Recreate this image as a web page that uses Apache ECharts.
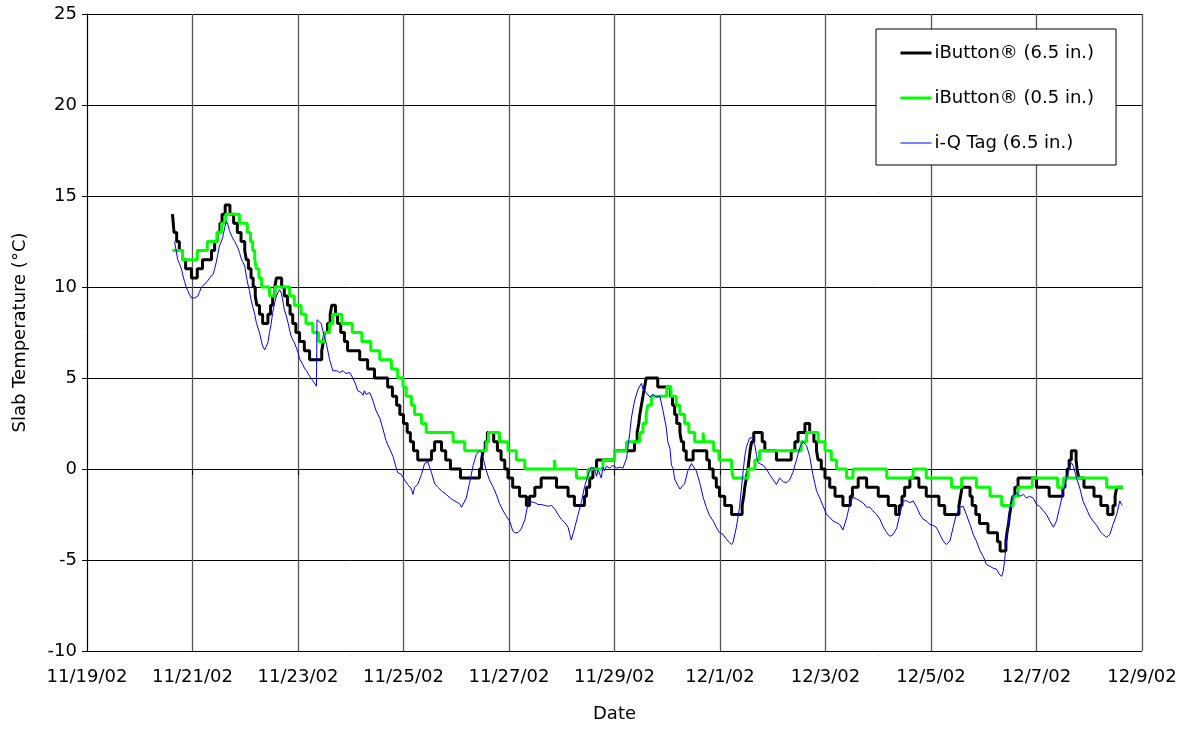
<!DOCTYPE html>
<html>
<head>
<meta charset="utf-8">
<script src="https://cdn.jsdelivr.net/npm/echarts@6/dist/echarts.min.js"></script>
<style>
html, body { margin: 0; padding: 0; background: #fff; }
#chartmain { width: 1185px; height: 730px; }
</style>
</head>
<body>
<div id="chartmain"></div>
<script>
// x = days since 11/19/02 00:00, y = slab temperature (°C)
var dateLabels = ['11/19/02', '11/21/02', '11/23/02', '11/25/02', '11/27/02', '11/29/02',
    '12/1/02', '12/3/02', '12/5/02', '12/7/02', '12/9/02'];

// iButton 6.5 in. : logged in 0.5 °C steps, one point per change
var ibutton65 = [
    [1.62, 14], [1.65, 13], [1.70, 12.5], [1.75, 12], [1.81, 11.5], [1.87, 11], [1.98, 10.5],
    [2.09, 11], [2.19, 11.5], [2.36, 12], [2.42, 12.5], [2.47, 13], [2.52, 13.5], [2.56, 14],
    [2.62, 14.5], [2.71, 14], [2.78, 13.5], [2.85, 13], [2.92, 12.5], [2.99, 12], [3.02, 11.5],
    [3.06, 11], [3.11, 10.5], [3.15, 10], [3.19, 9.5], [3.22, 9], [3.27, 8.5], [3.33, 8],
    [3.43, 8.5], [3.48, 9], [3.52, 9.5], [3.56, 10], [3.59, 10.5], [3.69, 10], [3.74, 9.5],
    [3.80, 9], [3.85, 8.5], [3.90, 8], [3.96, 7.5], [4.03, 7], [4.12, 6.5], [4.22, 6],
    [4.45, 6.5], [4.48, 7], [4.51, 7.5], [4.56, 8], [4.61, 8.5], [4.64, 9], [4.71, 8.5],
    [4.75, 8], [4.81, 7.5], [4.88, 7], [4.94, 6.5], [5.17, 6], [5.32, 5.5], [5.45, 5],
    [5.70, 4.5], [5.79, 4], [5.87, 3.5], [5.93, 3], [6.00, 2.5], [6.07, 2], [6.13, 1.5],
    [6.19, 1], [6.27, 0.5], [6.53, 1], [6.59, 1.5], [6.72, 1], [6.80, 0.5], [6.89, 0],
    [7.08, -0.5], [7.44, 0], [7.48, 0.5], [7.51, 1], [7.55, 1.5], [7.59, 2], [7.71, 1.5],
    [7.78, 1], [7.85, 0.5], [7.92, 0], [7.98, -0.5], [8.07, -1], [8.20, -1.5], [8.33, -2],
    [8.39, -1.5], [8.49, -1], [8.61, -0.5], [8.90, -1], [9.12, -1.5], [9.24, -2], [9.43, -1.5],
    [9.47, -1], [9.53, -0.5], [9.59, 0], [9.66, 0.5], [10.00, 1], [10.38, 1.5], [10.43, 2],
    [10.46, 2.5], [10.48, 3], [10.51, 3.5], [10.54, 4], [10.57, 4.5], [10.60, 5], [10.82, 4.5],
    [11.06, 4], [11.10, 3.5], [11.14, 3], [11.18, 2.5], [11.24, 2], [11.27, 1.5], [11.31, 1],
    [11.36, 0.5], [11.49, 1], [11.75, 0.5], [11.80, 0], [11.87, -0.5], [11.93, -1], [11.99, -1.5],
    [12.09, -2], [12.22, -2.5], [12.42, -2], [12.45, -1.5], [12.47, -1], [12.50, -0.5], [12.53, 0],
    [12.55, 0.5], [12.57, 1], [12.60, 1.5], [12.64, 2], [12.80, 1.5], [12.85, 1], [13.07, 0.5],
    [13.35, 1], [13.42, 1.5], [13.48, 2], [13.61, 2.5], [13.70, 2], [13.78, 1.5], [13.83, 1],
    [13.86, 0.5], [13.92, 0], [13.99, -0.5], [14.08, -1], [14.18, -1.5], [14.33, -2], [14.47, -1.5],
    [14.51, -1], [14.62, -0.5], [14.78, -1], [15.00, -1.5], [15.19, -2], [15.33, -2.5], [15.40, -2],
    [15.45, -1.5], [15.50, -1], [15.60, -0.5], [15.77, -1], [15.91, -1.5], [16.15, -2], [16.26, -2.5],
    [16.53, -2], [16.56, -1.5], [16.59, -1], [16.74, -1.5], [16.78, -2], [16.85, -2.5], [16.92, -3],
    [17.08, -3.5], [17.26, -4], [17.31, -4.5], [17.42, -4], [17.44, -3.5], [17.47, -3], [17.49, -2.5],
    [17.52, -2], [17.55, -1.5], [17.59, -1], [17.65, -0.5], [18.00, -1], [18.24, -1.5], [18.50, -1],
    [18.54, -0.5], [18.58, 0], [18.62, 0.5], [18.66, 1], [18.75, 0.5], [18.77, 0], [18.80, -0.5],
    [18.90, -1], [19.09, -1.5], [19.22, -2], [19.35, -2.5], [19.45, -2], [19.49, -1.5], [19.52, -1],
    [19.64, -1]
];

// iButton 0.5 in.
var ibutton05 = [
    [1.62, 12], [1.81, 11.5], [2.09, 12], [2.28, 12.5], [2.47, 13], [2.55, 13.5], [2.63, 14],
    [2.89, 13.5], [3.04, 13], [3.10, 12.5], [3.14, 12], [3.18, 11.5], [3.21, 11], [3.26, 10.5],
    [3.31, 10], [3.46, 9.5], [3.56, 10], [3.84, 9.5], [3.93, 9], [4.06, 8.5], [4.15, 8],
    [4.28, 7.5], [4.39, 7], [4.50, 7.5], [4.60, 8], [4.66, 8.5], [4.83, 8], [5.03, 7.5],
    [5.21, 7], [5.38, 6.5], [5.55, 6], [5.77, 5.5], [5.89, 5], [5.99, 4.5], [6.05, 4],
    [6.15, 3.5], [6.21, 3], [6.34, 2.5], [6.43, 2], [6.94, 1.5], [7.16, 1], [7.57, 1.5],
    [7.61, 2], [7.82, 1.5], [7.98, 1], [8.14, 0.5], [8.30, 0], [8.86, 0.5], [8.88, 0],
    [9.28, -0.5], [9.50, 0], [9.78, 0.5], [10.00, 1], [10.23, 1.5], [10.48, 2], [10.54, 2.5],
    [10.60, 3], [10.63, 3.5], [10.70, 4], [10.99, 4.5], [11.07, 4], [11.17, 3.5], [11.24, 3],
    [11.33, 2.5], [11.41, 2], [11.52, 1.5], [11.68, 2], [11.70, 1.5], [11.88, 1], [11.98, 0.5],
    [12.22, 0], [12.25, -0.5], [12.53, 0], [12.66, 0.5], [12.75, 1], [13.54, 1.5], [13.64, 2],
    [13.86, 1.5], [13.99, 1], [14.11, 0.5], [14.21, 0], [14.40, -0.5], [14.52, 0], [15.16, -0.5],
    [15.66, 0], [15.91, -0.5], [16.39, -1], [16.58, -0.5], [16.86, -1], [17.12, -1.5], [17.34, -2],
    [17.56, -1.5], [17.65, -1], [17.92, -0.5], [18.40, -1], [18.51, -0.5], [19.33, -1], [19.64, -1]
];

// i-Q Tag 6.5 in.
var iqTag65 = [
    [1.66, 12.5], [1.69, 12.0], [1.72, 11.5], [1.75, 11.3], [1.79, 11.0], [1.82, 10.6], [1.85, 10.3],
    [1.88, 10.0], [1.91, 9.8], [1.94, 9.6], [1.98, 9.4], [2.01, 9.5], [2.04, 9.4], [2.07, 9.3],
    [2.10, 9.5], [2.13, 9.7], [2.17, 10.0], [2.20, 10.05], [2.23, 10.15], [2.26, 10.25], [2.29, 10.35],
    [2.32, 10.25], [2.35, 10.6], [2.39, 10.7], [2.42, 11.0], [2.45, 11.35], [2.48, 11.8], [2.51, 12.25],
    [2.54, 12.45], [2.57, 12.7], [2.61, 13.25], [2.64, 13.6], [2.67, 13.45], [2.70, 13.1], [2.73, 12.9],
    [2.76, 12.7], [2.80, 12.5], [2.83, 12.45], [2.86, 12.15], [2.89, 11.9], [2.92, 11.6], [2.95, 11.4],
    [2.99, 11.15], [3.02, 10.6], [3.05, 10.15], [3.08, 9.8], [3.11, 9.3], [3.14, 8.95], [3.18, 8.5],
    [3.21, 8.05], [3.24, 7.75], [3.27, 7.5], [3.30, 7.1], [3.33, 6.75], [3.37, 6.55], [3.40, 6.6],
    [3.43, 6.95], [3.46, 7.5], [3.49, 7.95], [3.52, 8.6], [3.56, 9.15], [3.59, 9.5], [3.62, 9.7],
    [3.65, 9.85], [3.68, 9.7], [3.71, 9.3], [3.74, 8.75], [3.78, 8.4], [3.81, 8.05], [3.84, 7.65],
    [3.87, 7.3], [3.90, 7.1], [3.93, 6.95], [3.97, 6.65], [4.00, 6.4], [4.03, 6.05], [4.06, 5.95],
    [4.09, 5.75], [4.12, 5.55], [4.16, 5.4], [4.19, 5.3], [4.22, 5.1], [4.25, 5.0], [4.28, 4.85],
    [4.31, 4.75], [4.35, 4.55], [4.36, 8.2], [4.39, 8.1], [4.44, 8.0], [4.47, 7.6], [4.54, 6.85],
    [4.60, 6.0], [4.66, 5.4], [4.73, 5.4], [4.79, 5.3], [4.85, 5.4], [4.91, 5.25], [4.98, 5.3],
    [5.04, 5.0], [5.10, 4.6], [5.13, 4.3], [5.20, 4.2], [5.23, 4.05], [5.26, 4.3], [5.29, 4.1],
    [5.32, 4.2], [5.36, 4.2], [5.39, 4.0], [5.42, 3.75], [5.48, 3.2], [5.55, 2.8], [5.61, 2.2],
    [5.67, 1.55], [5.74, 1.1], [5.80, 0.7], [5.86, 0.08], [5.89, -0.2], [5.96, -0.3], [6.02, -0.6],
    [6.08, -0.85], [6.15, -1.1], [6.18, -1.4], [6.21, -1.0], [6.27, -0.85], [6.34, -0.3], [6.40, 0.3],
    [6.46, 0.4], [6.53, -0.2], [6.59, -0.8], [6.65, -1.0], [6.72, -1.2], [6.81, -1.4], [6.91, -1.65],
    [7.00, -1.8], [7.06, -1.9], [7.10, -2.1], [7.13, -2.0], [7.19, -1.6], [7.25, -0.8], [7.32, 0.2],
    [7.38, 0.8], [7.44, 1.0], [7.48, 0.9], [7.51, 0.6], [7.57, -0.1], [7.63, -0.6], [7.70, -1.0],
    [7.76, -1.4], [7.82, -1.9], [7.89, -2.3], [7.95, -2.6], [8.01, -2.85], [8.04, -3.1], [8.07, -3.4],
    [8.11, -3.5], [8.17, -3.5], [8.23, -3.3], [8.30, -2.8], [8.36, -1.9], [8.42, -1.8], [8.49, -1.85],
    [8.55, -1.95], [8.61, -1.95], [8.68, -2.0], [8.74, -2.05], [8.80, -2.0], [8.87, -2.2], [8.93, -2.5],
    [8.99, -2.75], [9.06, -2.95], [9.12, -3.2], [9.15, -3.55], [9.18, -3.9], [9.24, -3.3], [9.31, -2.5],
    [9.37, -1.85], [9.43, -1.0], [9.50, -0.3], [9.56, 0.1], [9.62, 0.0], [9.66, -0.4], [9.69, -0.05],
    [9.75, -0.5], [9.78, 0.1], [9.81, -0.1], [9.85, 0.15], [9.91, 0.05], [9.97, 0.2], [10.04, 0.05],
    [10.10, 0.1], [10.16, 0.05], [10.23, 0.6], [10.26, 1.3], [10.29, 2.0], [10.32, 2.8], [10.38, 3.75],
    [10.45, 4.4], [10.51, 4.7], [10.54, 4.4], [10.60, 4.2], [10.67, 3.95], [10.73, 4.1], [10.79, 3.95],
    [10.86, 4.0], [10.92, 3.2], [10.98, 2.3], [11.01, 1.5], [11.05, 1.15], [11.08, 0.2], [11.11, 0.05],
    [11.14, -0.55], [11.20, -0.9], [11.24, -1.1], [11.27, -1.1], [11.33, -0.8], [11.39, -0.1], [11.46, 0.3],
    [11.49, 0.25], [11.55, -0.1], [11.62, -0.8], [11.68, -1.55], [11.74, -2.1], [11.80, -2.55], [11.87, -2.85],
    [11.93, -3.2], [11.99, -3.5], [12.06, -3.6], [12.12, -3.85], [12.18, -4.05], [12.22, -4.15], [12.25, -4.0],
    [12.31, -3.2], [12.37, -2.1], [12.44, -0.1], [12.47, 0.7], [12.50, 1.2], [12.53, 1.45], [12.56, 1.7],
    [12.60, 1.72], [12.63, 1.55], [12.66, 1.3], [12.69, 0.8], [12.72, 0.35], [12.75, 0.3], [12.82, 0.2],
    [12.88, 0.0], [12.94, -0.3], [13.01, -0.6], [13.07, -0.85], [13.13, -0.5], [13.20, -0.7], [13.26, -0.75],
    [13.32, -0.6], [13.38, -0.2], [13.45, 0.5], [13.51, 1.15], [13.57, 1.5], [13.64, 1.3], [13.70, 0.7],
    [13.76, -0.3], [13.83, -1.2], [13.89, -1.6], [13.95, -2.0], [14.02, -2.5], [14.08, -2.65], [14.14, -2.85],
    [14.21, -2.95], [14.27, -3.05], [14.33, -3.35], [14.40, -2.7], [14.46, -1.95], [14.52, -1.55], [14.59, -1.65],
    [14.65, -1.75], [14.71, -1.85], [14.78, -2.1], [14.84, -2.1], [14.90, -2.3], [14.97, -2.5], [15.03, -2.75],
    [15.09, -3.15], [15.16, -3.5], [15.22, -3.7], [15.28, -3.6], [15.35, -3.25], [15.41, -2.5], [15.47, -1.75],
    [15.54, -1.75], [15.60, -1.85], [15.66, -1.75], [15.73, -2.1], [15.79, -2.5], [15.85, -2.75], [15.91, -2.85],
    [15.98, -3.05], [16.04, -3.1], [16.10, -3.2], [16.17, -3.6], [16.23, -3.95], [16.29, -4.15], [16.36, -3.95],
    [16.42, -3.2], [16.48, -2.5], [16.55, -2.1], [16.61, -2.05], [16.67, -2.5], [16.74, -3.05], [16.80, -3.6],
    [16.86, -3.95], [16.93, -4.5], [16.99, -4.8], [17.05, -5.25], [17.12, -5.35], [17.18, -5.45], [17.24, -5.5],
    [17.30, -5.8], [17.34, -5.9], [17.37, -5.6], [17.40, -4.9], [17.43, -4.0], [17.46, -3.05], [17.49, -2.3],
    [17.53, -1.75], [17.56, -1.5], [17.62, -1.3], [17.68, -1.5], [17.75, -1.4], [17.81, -1.6], [17.87, -1.5],
    [17.94, -1.6], [18.00, -1.95], [18.06, -2.05], [18.13, -2.3], [18.19, -2.5], [18.25, -2.85], [18.32, -3.2],
    [18.38, -2.85], [18.44, -2.1], [18.51, -1.2], [18.57, -0.5], [18.63, 0.15], [18.66, 0.35], [18.70, 0.15],
    [18.76, -0.5], [18.82, -1.05], [18.88, -1.75], [18.95, -2.2], [19.01, -2.6], [19.07, -2.85], [19.14, -3.1],
    [19.20, -3.4], [19.26, -3.6], [19.33, -3.75], [19.39, -3.6], [19.45, -3.05], [19.52, -2.5], [19.58, -1.75],
    [19.61, -1.95], [19.63, -2.0]
];

window.onload = function () {
    var chart = echarts.init(document.getElementById('chartmain'));
    initChart(chart);
};

function initChart(chart) {
    var font = 'DejaVu Sans';
    chart.setOption({
        animation: false,
        backgroundColor: '#fff',
        textStyle: { fontFamily: font },
        grid: { left: 87, right: 43, top: 14, bottom: 79 },
        legend: {
            orient: 'vertical',
            left: 876,
            top: 29,
            padding: [15, 22, 13, 23],
            itemGap: 27,
            itemWidth: 31,
            itemHeight: 14,
            backgroundColor: '#fff',
            borderColor: '#000',
            borderWidth: 1,
            borderRadius: 0,
            itemStyle: { opacity: 0 }, // 图例只画线，不画圆点
            textStyle: { fontFamily: font, fontSize: 18, color: '#000', padding: [0, 0, 0, -2] },
            data: [
                { name: 'iButton® (6.5 in.)', lineStyle: { width: 3 } },
                { name: 'iButton® (0.5 in.)', lineStyle: { width: 3 } },
                { name: 'i-Q Tag (6.5 in.)', lineStyle: { width: 1 } }
            ]
        },
        xAxis: {
            type: 'value',
            min: 0,
            max: 20,
            interval: 2,
            name: 'Date',
            nameLocation: 'middle',
            nameGap: 54,
            nameTextStyle: { fontFamily: font, fontSize: 18, color: '#000' },
            axisLine: { show: true, lineStyle: { color: '#000', width: 1 } },
            axisTick: { show: true, length: 6, lineStyle: { color: '#000' } },
            axisLabel: {
                fontFamily: font, fontSize: 18, color: '#000', margin: 17,
                formatter: function (v) { return dateLabels[Math.round(v / 2)]; }
            },
            splitLine: { show: true, lineStyle: { color: '#555', width: 1.3 } }
        },
        yAxis: {
            type: 'value',
            min: -10,
            max: 25,
            interval: 5,
            name: 'Slab Temperature (°C)',
            nameLocation: 'middle',
            nameGap: 58,
            nameTextStyle: { fontFamily: font, fontSize: 18, color: '#000' },
            axisLine: { show: true, lineStyle: { color: '#000', width: 1 } },
            axisTick: { show: true, length: 5, lineStyle: { color: '#000' } },
            axisLabel: { fontFamily: font, fontSize: 18, color: '#000', margin: 10 },
            splitLine: { show: true, lineStyle: { color: '#000', width: 1 } }
        },
        series: [
            {
                name: 'iButton® (6.5 in.)',
                type: 'line',
                step: 'end',
                symbol: 'none',
                data: ibutton65,
                lineStyle: { color: '#000', width: 3 },
                itemStyle: { color: '#000' }
            },
            {
                name: 'iButton® (0.5 in.)',
                type: 'line',
                step: 'end',
                symbol: 'none',
                data: ibutton05,
                lineStyle: { color: '#00ff00', width: 3 },
                itemStyle: { color: '#00ff00' }
            },
            {
                name: 'i-Q Tag (6.5 in.)',
                type: 'line',
                symbol: 'none',
                data: iqTag65,
                lineStyle: { color: '#0000ff', width: 1 },
                itemStyle: { color: '#0000ff' }
            }
        ]
    });
}
</script>
</body>
</html>
